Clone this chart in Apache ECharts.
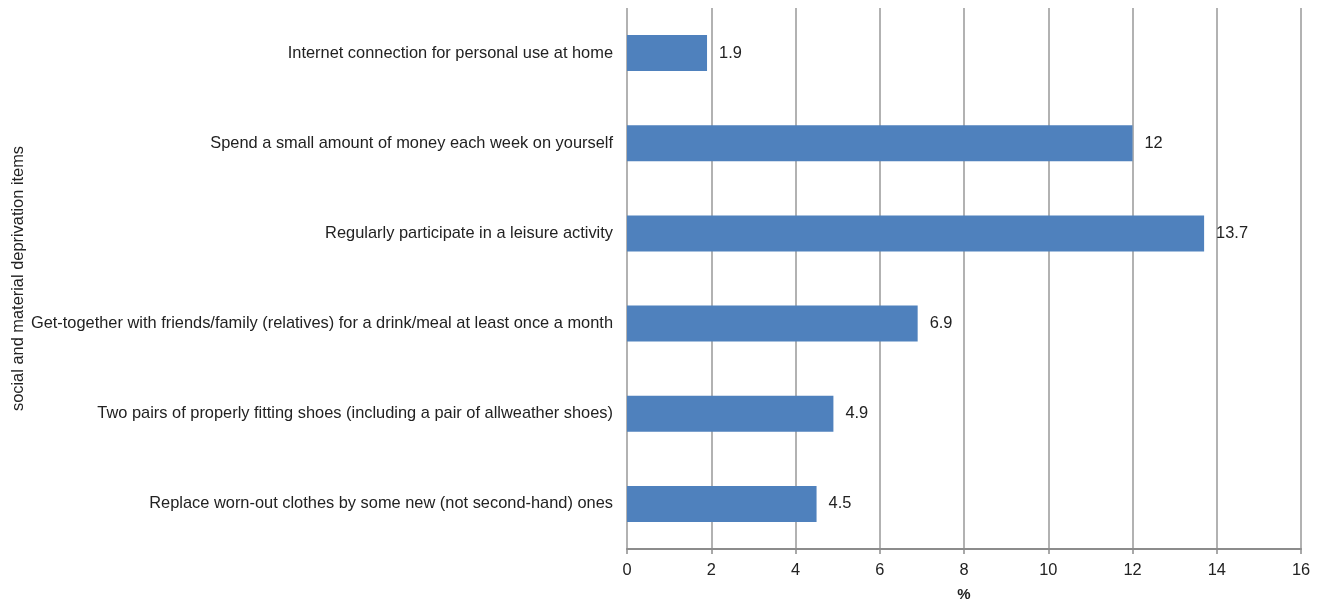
<!DOCTYPE html>
<html>
<head>
<meta charset="utf-8">
<script src="https://cdn.jsdelivr.net/npm/echarts@6/dist/echarts.min.js"></script>
<style>
  html, body { margin: 0; padding: 0; background: #fff; }
  #chart { width: 1322px; height: 601px; }
</style>
</head>
<body>
<div id="chart"></div>
<script>
// Items listed bottom to top (category axis runs upward)
const items = [
  'Replace worn-out clothes by some new (not second-hand) ones',
  'Two pairs of properly fitting shoes (including a pair of allweather shoes)',
  'Get-together with friends/family (relatives) for a drink/meal at least once a month',
  'Regularly participate in a leisure activity',
  'Spend a small amount of money each week on yourself',
  'Internet connection for personal use at home'
];
const shares = [4.5, 4.9, 6.9, 13.7, 12, 1.9];

const xTitle = '%';
const yTitle = 'social and material deprivation items';

const font = 'Liberation Sans, Arial, sans-serif';
const fs = 16.4;
const chart = echarts.init(document.getElementById('chart'));
chart.setOption({
  animation: false,
  textStyle: { fontFamily: font },
  grid: { left: 627, right: 21, top: 8, bottom: 52, containLabel: false, outerBoundsMode: 'none' },
  xAxis: {
    type: 'value',
    min: 0, max: 16, interval: 2,
    name: xTitle,
    nameLocation: 'middle',
    nameGap: 38,
    nameTextStyle: { fontFamily: font, fontSize: 15, fontWeight: 'bold', color: '#222' },
    axisLine: { show: true, lineStyle: { color: '#8c8c8c', width: 2 } },
    axisTick: { show: true, length: 5, lineStyle: { color: '#8c8c8c', width: 1.5 } },
    axisLabel: { fontFamily: font, fontSize: fs, color: '#222', margin: 13 },
    splitLine: { show: true, lineStyle: { color: '#999', width: 1.5 } }
  },
  yAxis: {
    type: 'category',
    data: items,
    name: yTitle,
    nameLocation: 'middle',
    nameGap: 601,
    nameRotate: 90,
    nameMoveOverlap: false,
    nameTextStyle: { fontFamily: font, fontSize: fs, color: '#222' },
    axisLine: { show: false },
    axisTick: { show: false },
    axisLabel: { fontFamily: font, fontSize: fs, color: '#222', margin: 14 }
  },
  series: [{
    type: 'bar',
    data: shares,
    barWidth: '40%',
    itemStyle: { color: '#4f81bd' },
    label: {
      show: true,
      position: 'right',
      distance: 12,
      fontFamily: font,
      fontSize: fs,
      color: '#222'
    }
  }]
});
</script>
</body>
</html>
